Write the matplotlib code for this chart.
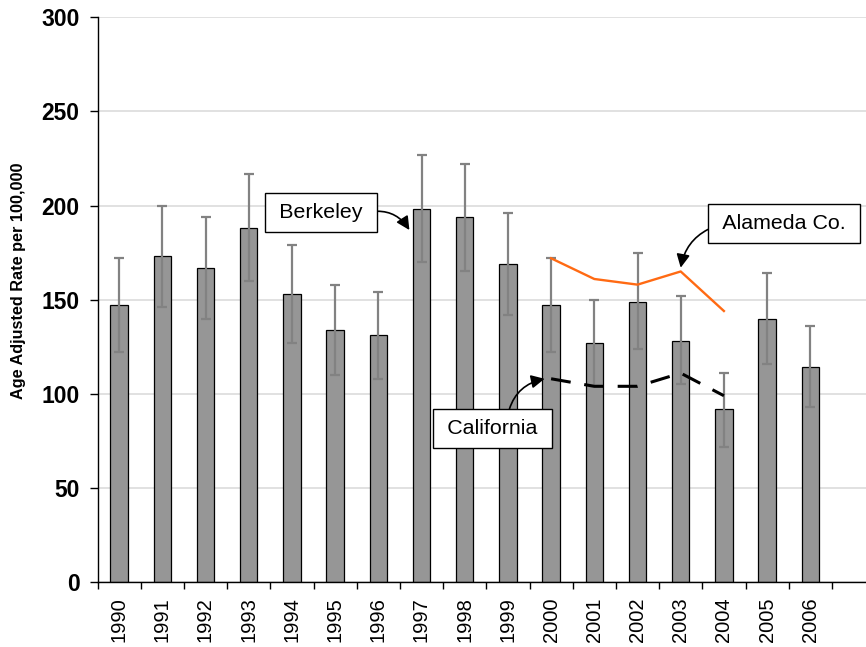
import matplotlib
matplotlib.use("Agg")
import matplotlib.pyplot as plt
import numpy as np

plt.rcParams['font.family'] = ['Liberation Sans', 'DejaVu Sans']

# Age adjusted rate per 100,000 by year
years = ["1990", "1991", "1992", "1993", "1994", "1995", "1996", "1997", "1998",
         "1999", "2000", "2001", "2002", "2003", "2004", "2005", "2006"]
berkeley = [147, 173, 167, 188, 153, 134, 131, 198, 194, 169, 147, 127, 149, 128, 92, 140, 114]
ci_upper = [172, 200, 194, 217, 179, 158, 154, 227, 222, 196, 172, 150, 175, 152, 111, 164, 136]
ci_lower = [122, 146, 140, 160, 127, 110, 108, 170, 165, 142, 122, 104, 124, 105, 72, 116, 93]

# County and state comparison rates, 2000-2004
compare_years = ["2000", "2001", "2002", "2003", "2004"]
alameda = [172, 161, 158, 165, 144]
california = [108, 104, 104, 111, 99]

fig = plt.figure(figsize=(8.66, 6.47), dpi=100)
ax = fig.add_axes([97.5 / 866, 1 - 582.1 / 647, 1 - 97.5 / 866, (582.1 - 17.3) / 647])

x = np.arange(len(years))
vals = np.array(berkeley)
err = [vals - np.array(ci_lower), np.array(ci_upper) - vals]

ax.bar(x, vals, width=0.4, color="#969696", edgecolor="black", linewidth=0.9, zorder=2)
ax.errorbar(x, vals, yerr=err, fmt="none", ecolor="#828282", elinewidth=1.6,
            capsize=3.4, capthick=1.6, zorder=3)

cx = np.array([years.index(y) for y in compare_years])
ax.plot(cx, alameda, color="#ff6a13", linewidth=1.7, zorder=4)
ax.plot(cx, california, color="black", linewidth=2.2, dashes=(6.5, 4.5), zorder=4)

ax.set_ylim(0, 300)
ax.set_xlim(-0.5, -0.5 + (866 - 97.5) / 43.2)
ax.set_yticks(np.arange(0, 301, 50))
ax.yaxis.grid(True, color="#d9d9d9", linewidth=1.1, zorder=0)
ax.set_axisbelow(True)
for side in ("top", "right"):
    ax.spines[side].set_visible(False)
ax.spines["left"].set_linewidth(1.0)
ax.spines["bottom"].set_linewidth(1.0)

ax.set_xticks(x)
ax.set_xticklabels(years, rotation=90, fontsize=14.5)
ax.set_xticks(np.arange(-0.5, len(years) + 0.5, 1), minor=True)
ax.tick_params(axis="x", which="major", length=0, pad=11)
ax.tick_params(axis="x", which="minor", length=5, width=1.0)
ax.tick_params(axis="y", length=5.5, width=1.0, pad=7.5, labelsize=16.5)
for lbl in ax.get_yticklabels():
    lbl.set_fontweight("bold")

fig.text(19 / 866, 1 - 281 / 647, "Age Adjusted Rate per 100,000", rotation=90,
         ha="center", va="center", fontsize=11.7, fontweight="bold")

box = dict(boxstyle="square,pad=0.47", facecolor="white", edgecolor="black", linewidth=1.0)
arrow = dict(arrowstyle="-|>", color="black", linewidth=1.2, mutation_scale=20,
             shrinkA=0, shrinkB=0)
sp = "\u2009"

ax.annotate(sp + "Berkeley" + sp, xy=(7 - 0.28, 187), xytext=(4.67, 196.3),
            fontsize=15.4, ha="center", va="center", bbox=box,
            arrowprops=dict(arrow, connectionstyle="arc3,rad=-0.35", relpos=(1, 0.5)),
            zorder=6)
ax.annotate(sp + "Alameda Co." + sp, xy=(13.0, 167), xytext=(15.40, 190.6),
            fontsize=15.4, ha="center", va="center", bbox=box,
            arrowprops=dict(arrow, connectionstyle="arc3,rad=0.3", relpos=(0, 0.4)),
            zorder=6)
ax.annotate(sp + "California" + sp, xy=(10 - 0.15, 108), xytext=(8.64, 81.4),
            fontsize=15.4, ha="center", va="center", bbox=box,
            arrowprops=dict(arrow, connectionstyle="arc3,rad=-0.35", relpos=(0.65, 1)),
            zorder=6)

fig.savefig("out.png", dpi=100)
